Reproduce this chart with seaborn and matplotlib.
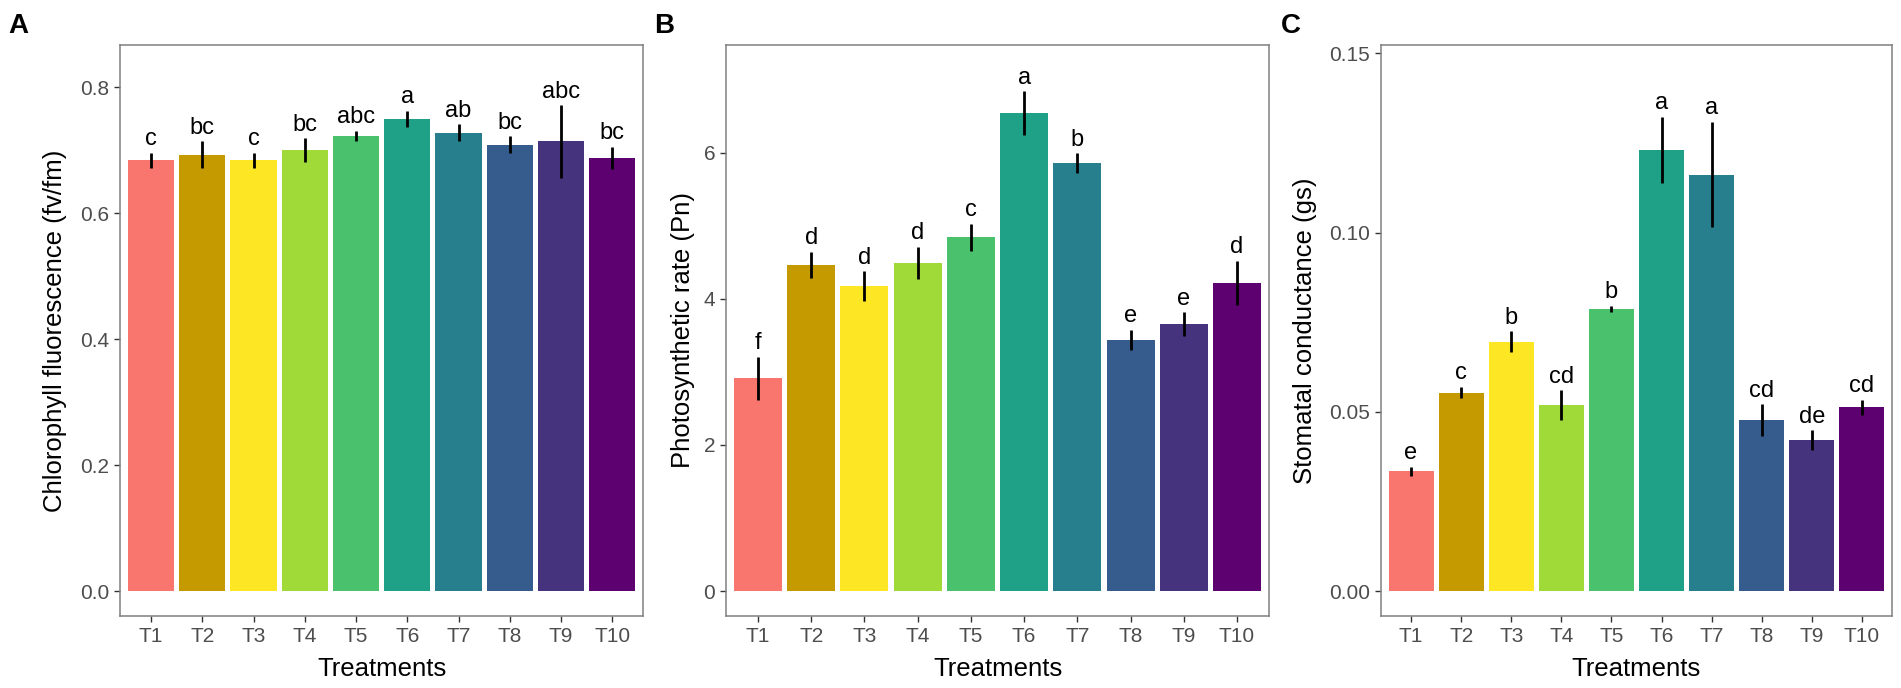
import matplotlib
matplotlib.use('Agg')
import matplotlib.pyplot as plt
from matplotlib.ticker import FormatStrFormatter, FixedLocator
import seaborn as sns
import pandas as pd
import numpy as np

treatments = ['T1', 'T2', 'T3', 'T4', 'T5', 'T6', 'T7', 'T8', 'T9', 'T10']
bar_colors = ['#F8766D', '#C49A00', '#FDE725', '#A0DA39', '#4AC16D',
              '#1FA187', '#277F8E', '#365C8D', '#46337E', '#5D0171']

fvfm_mean = [0.684, 0.693, 0.684, 0.700, 0.723, 0.750, 0.728, 0.709, 0.714, 0.688]
fvfm_se = [0.012, 0.021, 0.012, 0.019, 0.008, 0.013, 0.0135, 0.013, 0.0575, 0.0175]
fvfm_letters = ['c', 'bc', 'c', 'bc', 'abc', 'a', 'ab', 'bc', 'abc', 'bc']

pn_mean = [2.91, 4.46, 4.17, 4.49, 4.84, 6.54, 5.86, 3.44, 3.65, 4.22]
pn_se = [0.294, 0.18, 0.204, 0.22, 0.186, 0.30, 0.132, 0.139, 0.163, 0.30]
pn_letters = ['f', 'd', 'd', 'd', 'c', 'a', 'b', 'e', 'e', 'd']

gs_mean = [0.0334, 0.0553, 0.0695, 0.0518, 0.0786, 0.1231, 0.1161, 0.0476, 0.0420, 0.0513]
gs_se = [0.0013, 0.0016, 0.0029, 0.0042, 0.0009, 0.0092, 0.0147, 0.0045, 0.0028, 0.0021]
gs_letters = ['e', 'c', 'b', 'cd', 'b', 'a', 'a', 'cd', 'de', 'cd']

panel_names = ['A', 'B', 'C']
y_titles = ['Chlorophyll fluorescence (fv/fm)', 'Photosynthetic rate (Pn)', 'Stomatal conductance (gs)']
y_ticks = [[0.0, 0.2, 0.4, 0.6, 0.8], [0, 2, 4, 6], [0.00, 0.05, 0.10, 0.15]]
y_formats = ['%.1f', '%d', '%.2f']
y_limits = [(-0.0397, 0.8672), (-0.342, 7.474), (-0.00697, 0.1523)]
x_title = 'Treatments'

sns.set_theme(style='white')
plt.rcParams['font.family'] = ['Liberation Sans', 'DejaVu Sans']

W, H = 1901, 688
fig = plt.figure(figsize=(W / 100, H / 100), dpi=100)

boxes = [(120.3, 643.0), (726.0, 1269.0), (1381.0, 1892.0)]
ylab_x = [55, 683, 1305]
letter_x = [8, 654.5, 1280.4]
top_px, bot_px = 45.0, 616.0

datasets = [(fvfm_mean, fvfm_se, fvfm_letters),
            (pn_mean, pn_se, pn_letters),
            (gs_mean, gs_se, gs_letters)]

for k, (means, ses, letters) in enumerate(datasets):
    l, r = boxes[k]
    ax = fig.add_axes([l / W, 1 - bot_px / H, (r - l) / W, (bot_px - top_px) / H])
    df = pd.DataFrame({'Treatment': treatments, 'value': means, 'se': ses})
    sns.barplot(data=df, x='Treatment', y='value', hue='Treatment',
                order=treatments, hue_order=treatments,
                palette=dict(zip(treatments, bar_colors)), legend=False,
                width=0.9, errorbar=None, ax=ax, linewidth=0, saturation=1)
    xpos = np.arange(len(treatments))
    ax.errorbar(xpos, df['value'], yerr=df['se'], fmt='none', ecolor='black',
                elinewidth=2.0, capsize=0, zorder=5)
    for i, (m, s, lab) in enumerate(zip(means, ses, letters)):
        ax.annotate(lab, xy=(i, m + s), xytext=(0, 5.5), textcoords='offset points',
                    ha='center', va='baseline', fontsize=17, color='black')
    ax.set_xlim(-0.6, len(treatments) - 0.4)
    ax.set_ylim(*y_limits[k])
    ax.yaxis.set_major_locator(FixedLocator(y_ticks[k]))
    ax.yaxis.set_major_formatter(FormatStrFormatter(y_formats[k]))
    ax.set_xlabel('')
    ax.set_ylabel('')
    ax.tick_params(axis='both', which='major', labelsize=15, labelcolor='#4D4D4D',
                   color='#333333', length=4.3, width=1.0, pad=3.5,
                   bottom=True, left=True)
    for sp in ax.spines.values():
        sp.set_color('#808080')
        sp.set_linewidth(1.1)
        sp.set_visible(True)
    ax.grid(False)
    ax.set_facecolor('white')

    fig.text(ylab_x[k] / W, 1 - ((top_px + bot_px) / 2) / H, y_titles[k],
             rotation=90, ha='center', va='center', fontsize=18.5, color='black')
    fig.text(((l + r) / 2) / W, 1 - 676 / H, x_title, ha='center', va='baseline',
             fontsize=18.5, color='black')
    fig.text(letter_x[k] / W, 1 - 33 / H, panel_names[k], ha='left', va='baseline',
             fontsize=20, fontweight='bold', color='black')

fig.savefig('out.png', dpi=100, facecolor='white')
